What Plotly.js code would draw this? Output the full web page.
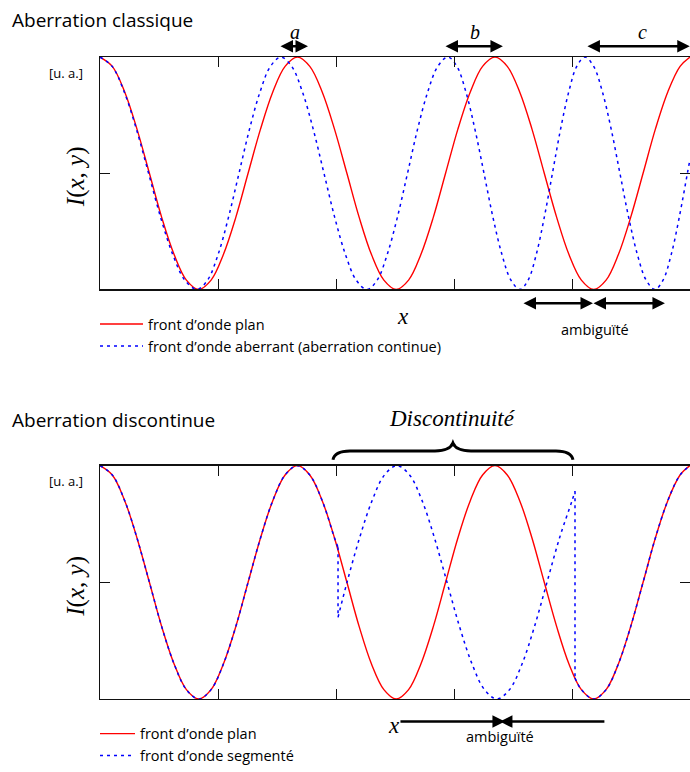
<!DOCTYPE html>
<html>
<head>
<meta charset="utf-8">
<script src="https://cdn.plot.ly/plotly-3.0.1.min.js"></script>
<style>
html,body{margin:0;padding:0;background:#fff;}
#chart{width:690px;height:772px;}
</style>
</head>
<body>
<div id="chart"></div>
<script>
// ---- Data (x in tick units, intensity normalised 0..1) ----
const x_plan = [0,0.104,0.209,0.313,0.418,0.522,0.627,0.731,0.835,0.940,1.044,1.149,1.253,1.358,1.462,1.566,1.671,1.775,1.880,1.984,2.089,2.193,2.297,2.402,2.506,2.611,2.715,2.820,2.924,3.028,3.133,3.237,3.342,3.446,3.551,3.655,3.759,3.864,3.968,4.073,4.177,4.282,4.386,4.490,4.595,4.699,4.804,4.908,4.992];
const y_plan = [1,0.96,0.85,0.69,0.5,0.31,0.15,0.04,0,0.04,0.15,0.31,0.5,0.69,0.85,0.96,1,0.96,0.85,0.69,0.5,0.31,0.15,0.04,0,0.04,0.15,0.31,0.5,0.69,0.85,0.96,1,0.96,0.85,0.69,0.5,0.31,0.15,0.04,0,0.04,0.15,0.31,0.5,0.69,0.85,0.96,1];

const x_aber = [0,0.103,0.205,0.308,0.411,0.513,0.616,0.718,0.821,0.910,0.999,1.087,1.176,1.265,1.354,1.442,1.531,1.622,1.713,1.804,1.895,1.986,2.077,2.168,2.259,2.345,2.430,2.516,2.602,2.687,2.773,2.858,2.944,3.020,3.096,3.172,3.249,3.325,3.401,3.477,3.553,3.622,3.691,3.759,3.828,3.897,3.966,4.034,4.103,4.177,4.251,4.325,4.399,4.473,4.547,4.621,4.695,4.764,4.833,4.901,4.970,4.992];
const y_aber = [1,0.96,0.85,0.69,0.5,0.31,0.15,0.04,0,0.04,0.15,0.31,0.5,0.69,0.85,0.96,1,0.96,0.85,0.69,0.5,0.31,0.15,0.04,0,0.04,0.15,0.31,0.5,0.69,0.85,0.96,1,0.96,0.85,0.69,0.5,0.31,0.15,0.04,0,0.04,0.15,0.31,0.5,0.69,0.85,0.96,1,0.96,0.85,0.69,0.5,0.31,0.15,0.04,0,0.04,0.15,0.31,0.5,0.56];

const x_seg1 = [0,0.104,0.209,0.313,0.418,0.522,0.627,0.731,0.835,0.940,1.044,1.149,1.253,1.358,1.462,1.566,1.671,1.775,1.880,1.984,2.014];
const y_seg1 = [1,0.96,0.85,0.69,0.5,0.31,0.15,0.04,0,0.04,0.15,0.31,0.5,0.69,0.85,0.96,1,0.96,0.85,0.69,0.65];
const x_jump1 = [2.014,2.014];
const y_jump1 = [0.65,0.35];
const x_seg2 = [2.014,2.090,2.196,2.302,2.407,2.513,2.619,2.725,2.830,2.936,3.042,3.148,3.253,3.359,3.465,3.571,3.676,3.782,3.888,3.994,4.019];
const y_seg2 = [0.35,0.5,0.69,0.85,0.96,1,0.96,0.85,0.69,0.5,0.31,0.15,0.04,0,0.04,0.15,0.31,0.5,0.69,0.85,0.89];
const x_jump2 = [4.019,4.019];
const y_jump2 = [0.89,0.09];
const x_seg3 = [4.019,4.073,4.177,4.282,4.386,4.490,4.595,4.699,4.804,4.908,4.992];
const y_seg3 = [0.09,0.04,0,0.04,0.15,0.31,0.5,0.69,0.85,0.96,1];

const legendLabels = ["front d\u2019onde plan","front d\u2019onde aberrant (aberration continue)","front d\u2019onde segment\u00e9"];
const xTicks = [1,2,3,4];
const yTicks = [0.5];

// ---- Styles ----
const RED = {color:'#ff0000', width:1.4};
const BLUE = {color:'#0000ff', width:1.5, dash:'3px,4px'};
const SANS = 'Open Sans, Noto Sans, sans-serif';
const SERIF = 'Liberation Serif, DejaVu Serif, serif';

const traces = [
  {x:x_plan, y:y_plan, xaxis:'x', yaxis:'y', mode:'lines', line:Object.assign({shape:'spline'},RED), name:legendLabels[0], legend:'legend'},
  {x:x_aber, y:y_aber, xaxis:'x', yaxis:'y', mode:'lines', line:Object.assign({shape:'spline'},BLUE), name:legendLabels[1], legend:'legend'},
  {x:x_plan, y:y_plan, xaxis:'x2', yaxis:'y2', mode:'lines', line:Object.assign({shape:'spline'},RED), name:legendLabels[0], legend:'legend2'},
  {x:x_seg1, y:y_seg1, xaxis:'x2', yaxis:'y2', mode:'lines', line:Object.assign({shape:'spline'},BLUE), name:legendLabels[2], legend:'legend2', legendgroup:'seg'},
  {x:x_jump1, y:y_jump1, xaxis:'x2', yaxis:'y2', mode:'lines', line:BLUE, showlegend:false, legendgroup:'seg'},
  {x:x_seg2, y:y_seg2, xaxis:'x2', yaxis:'y2', mode:'lines', line:Object.assign({shape:'spline'},BLUE), showlegend:false, legendgroup:'seg'},
  {x:x_jump2, y:y_jump2, xaxis:'x2', yaxis:'y2', mode:'lines', line:BLUE, showlegend:false, legendgroup:'seg'},
  {x:x_seg3, y:y_seg3, xaxis:'x2', yaxis:'y2', mode:'lines', line:Object.assign({shape:'spline'},BLUE), showlegend:false, legendgroup:'seg'}
];

const W = 690, H = 772;
const P = py => 1 - py / H;   // pixel row -> paper fraction
const xdom = [100/W, 1];
const ydomTop = [P(294), P(58)];
const ydomBot = [P(710), P(473)];

function xax(anchor){
  return {domain:xdom, range:[0,4.992], anchor:anchor, showgrid:false, zeroline:false,
    showline:true, linecolor:'#111', linewidth:1.3, mirror:'ticks',
    ticks:'inside', ticklen:10, tickwidth:1.2, tickcolor:'#111',
    tickvals:xTicks, showticklabels:false, fixedrange:true};
}
function yax(anchor, dom){
  return {domain:dom, range:[0,1], anchor:anchor, showgrid:false, zeroline:false,
    showline:true, linecolor:'#111', linewidth:1.3, mirror:'ticks',
    ticks:'inside', ticklen:10, tickwidth:1.2, tickcolor:'#111',
    tickvals:yTicks, showticklabels:false, fixedrange:true};
}

// horizontal arrow: head at data x, tail at data ax, row py (pixels)
function arrow(xr, x, ax, py, both){
  return {xref:xr, yref:'paper', axref:xr, ayref:'pixel', x:x, y:P(py), ax:ax, ay:0,
    text:' ', font:{size:1}, borderpad:0,
    showarrow:true, arrowhead:2, startarrowhead:2, arrowsize:1, startarrowsize:1,
    arrowwidth:2.5, arrowcolor:'#000',
    arrowside: both ? 'end+start' : 'end', standoff:0, startstandoff:0};
}
function txt(xr, x, py, t, size, family, extra){
  return Object.assign({xref:xr, yref:'paper', x:x, y:P(py), text:t, showarrow:false,
    xanchor:'center', yanchor:'middle',
    font:{size:size, family:family, color:'#000'}}, extra||{});
}

const annotations = [
  // top panel
  txt('paper', 10/W, 20, 'Aberration classique', 19, SANS, {xanchor:'left'}),
  txt('paper', 66/W, 74, '[u. a.]', 13, SANS),
  txt('paper', 76/W, 180, '<i>I</i>(<i>x</i>, <i>y</i>)', 25, SERIF, {textangle:-90}),
  txt('paper', 403/W, 321, '<i>x</i>', 23, SERIF),
  arrow('x', 1.760, 1.523, 47, true),
  arrow('x', 3.409, 2.919, 47, true),
  arrow('x', 4.99, 4.12, 47, true),
  txt('x', 1.65, 33, '<i>a</i>', 20, SERIF),
  txt('x', 3.173, 33, '<i>b</i>', 20, SERIF),
  txt('x', 4.594, 33, '<i>c</i>', 20, SERIF),
  arrow('x', 4.171, 3.579, 308, true),
  arrow('x', 4.780, 4.171, 308, true),
  txt('paper', 595/W, 335, 'ambigu\u00eft\u00e9', 14.5, SANS),
  // bottom panel
  txt('paper', 10/W, 427, 'Aberration discontinue', 19, SANS, {xanchor:'left'}),
  txt('paper', 66/W, 489, '[u. a.]', 13, SANS),
  txt('paper', 76/W, 596, '<i>I</i>(<i>x</i>, <i>y</i>)', 25, SERIF, {textangle:-90}),
  txt('paper', 394/W, 737, '<i>x</i>', 23, SERIF),
  txt('x2', 2.986, 425, '<i>Discontinuit\u00e9</i>', 23, SERIF),
  arrow('x2', 3.426, 2.538, 733, false),
  arrow('x2', 3.384, 4.272, 733, false),
  txt('paper', 500/W, 748, 'ambigu\u00eft\u00e9', 14.5, SANS)
];

const shapes = [
  {type:'path', xref:'x2', yref:'paper',
   path:'M1.971,' + P(467) + ' Q1.985,' + P(458) + ' 2.115,' + P(458) + ' L2.834,' + P(458) +
        ' Q2.96,' + P(458) + ' 2.986,' + P(450) + ' Q3.012,' + P(458) + ' 3.139,' + P(458) +
        ' L3.858,' + P(458) + ' Q3.988,' + P(458) + ' 4.002,' + P(467),
   line:{color:'#000', width:3}}
];

const layout = {
  width:W, height:H, margin:{l:0,r:0,t:0,b:0},
  paper_bgcolor:'#fff', plot_bgcolor:'#fff',
  font:{family:SANS, size:14, color:'#000'},
  xaxis:xax('y'), yaxis:yax('x', ydomTop),
  xaxis2:xax('y2'), yaxis2:yax('x2', ydomBot),
  legend:{x:95/W, y:P(313), xanchor:'left', yanchor:'top', bgcolor:'rgba(0,0,0,0)', borderwidth:0,
    font:{size:14.5, family:SANS, color:'#000'}, itemwidth:43, tracegroupgap:0},
  legend2:{x:95/W, y:P(729), xanchor:'left', yanchor:'top', bgcolor:'rgba(0,0,0,0)', borderwidth:0,
    font:{size:14.5, family:SANS, color:'#000'}, itemwidth:35, tracegroupgap:0},
  showlegend:true,
  annotations:annotations,
  shapes:shapes
};

Plotly.newPlot('chart', traces, layout, {displayModeBar:false, staticPlot:true});
</script>
</body>
</html>
